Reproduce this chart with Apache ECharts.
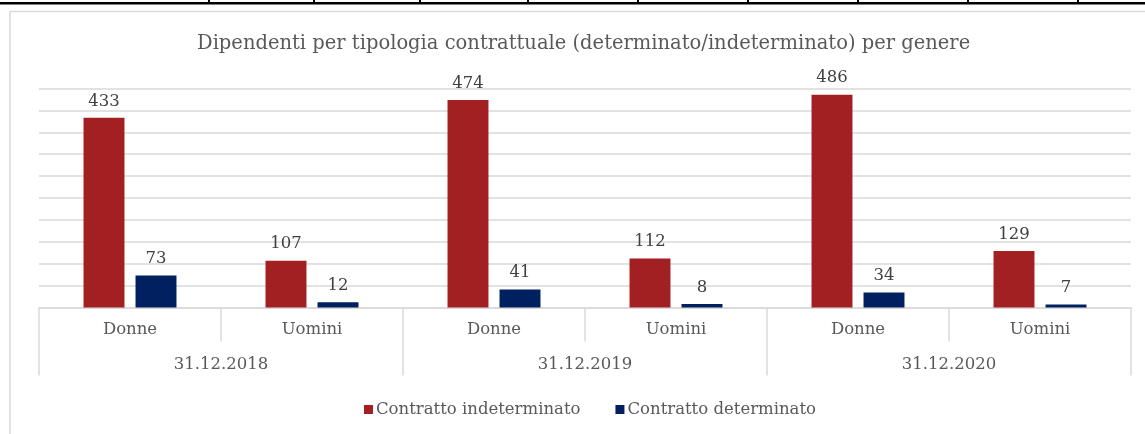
<!DOCTYPE html>
<html>
<head>
<meta charset="utf-8">
<script src="https://cdn.jsdelivr.net/npm/echarts@6/dist/echarts.min.js"></script>
<style>
html,body{margin:0;padding:0;background:#fff;}
#chart{width:1145px;height:434px;}
</style>
</head>
<body>
<div id="chart"></div>
<script>
const titleText = 'Dipendenti per tipologia contrattuale (determinato/indeterminato) per genere';
const genders = ['Donne', 'Uomini', 'Donne', 'Uomini', 'Donne', 'Uomini'];
const dates = ['31.12.2018', '31.12.2019', '31.12.2020'];
const seriesNames = ['Contratto indeterminato', 'Contratto determinato'];
const indeterminato = [433, 107, 474, 112, 486, 129];
const determinato = [73, 12, 41, 8, 34, 7];
const tableTicks = [209, 314, 420, 528, 638, 748, 858, 968, 1078];

const FONT = 'DejaVu Serif';
const TXT = '#595959';
const GRID = '#d9d9d9';

const chart = echarts.init(document.getElementById('chart'), null, {renderer: 'canvas'});

const graphics = [
  {type: 'rect', shape: {x: 0, y: 2, width: 1145, height: 2.5}, style: {fill: '#000'}, silent: true},
  {type: 'line', shape: {x1: 10, y1: 11.5, x2: 1145, y2: 11.5}, style: {stroke: GRID, lineWidth: 1.5}, silent: true},
  {type: 'line', shape: {x1: 10, y1: 11.5, x2: 10, y2: 434}, style: {stroke: GRID, lineWidth: 1.5}, silent: true}
];
tableTicks.forEach(function (x) {
  graphics.push({type: 'rect', shape: {x: x - 1, y: 0, width: 2, height: 4}, style: {fill: '#000'}, silent: true});
});

const labelCfg = {show: true, position: 'top', distance: 8, color: '#404040', fontFamily: FONT, fontSize: 16.5};

chart.setOption({
  animation: false,
  title: {
    text: titleText, left: 197, top: 34, padding: 0,
    textStyle: {fontFamily: FONT, fontSize: 19.5, fontWeight: 'normal', color: TXT}
  },
  legend: {
    data: seriesNames, bottom: 11, left: 359, itemWidth: 9, itemHeight: 9, itemGap: 35,
    icon: 'rect',
    textStyle: {fontFamily: FONT, fontSize: 16.5, color: TXT, padding: [0, 0, 0, -2]}
  },
  grid: {left: 39, right: 14, top: 88.5, height: 219, containLabel: false},
  xAxis: [
    {
      type: 'category', data: genders, position: 'bottom',
      axisLine: {show: true, lineStyle: {color: GRID, width: 1.5}},
      axisTick: {show: true, interval: 0, length: 34, lineStyle: {color: GRID, width: 1.5}},
      axisLabel: {interval: 0, margin: 14, fontFamily: FONT, fontSize: 16.5, color: TXT}
    },
    {
      type: 'category', data: dates, position: 'bottom',
      axisLine: {show: false},
      axisTick: {show: true, interval: 0, length: 68, lineStyle: {color: GRID, width: 1.5}},
      axisLabel: {interval: 0, margin: 49, fontFamily: FONT, fontSize: 16.5, color: TXT}
    }
  ],
  yAxis: {
    type: 'value', min: 0, max: 500, interval: 50,
    axisLabel: {show: false}, axisLine: {show: false}, axisTick: {show: false},
    splitLine: {show: true, lineStyle: {color: GRID, width: 1.5}}
  },
  series: [
    {
      name: seriesNames[0], type: 'bar', xAxisIndex: 0, data: indeterminato,
      barWidth: '22.5%', barGap: '27%',
      itemStyle: {color: '#a21f22'}, label: labelCfg
    },
    {
      name: seriesNames[1], type: 'bar', xAxisIndex: 0, data: determinato,
      barWidth: '22.5%', barGap: '27%',
      itemStyle: {color: '#00205f'}, label: labelCfg
    }
  ],
  graphic: graphics
});
</script>
</body>
</html>
